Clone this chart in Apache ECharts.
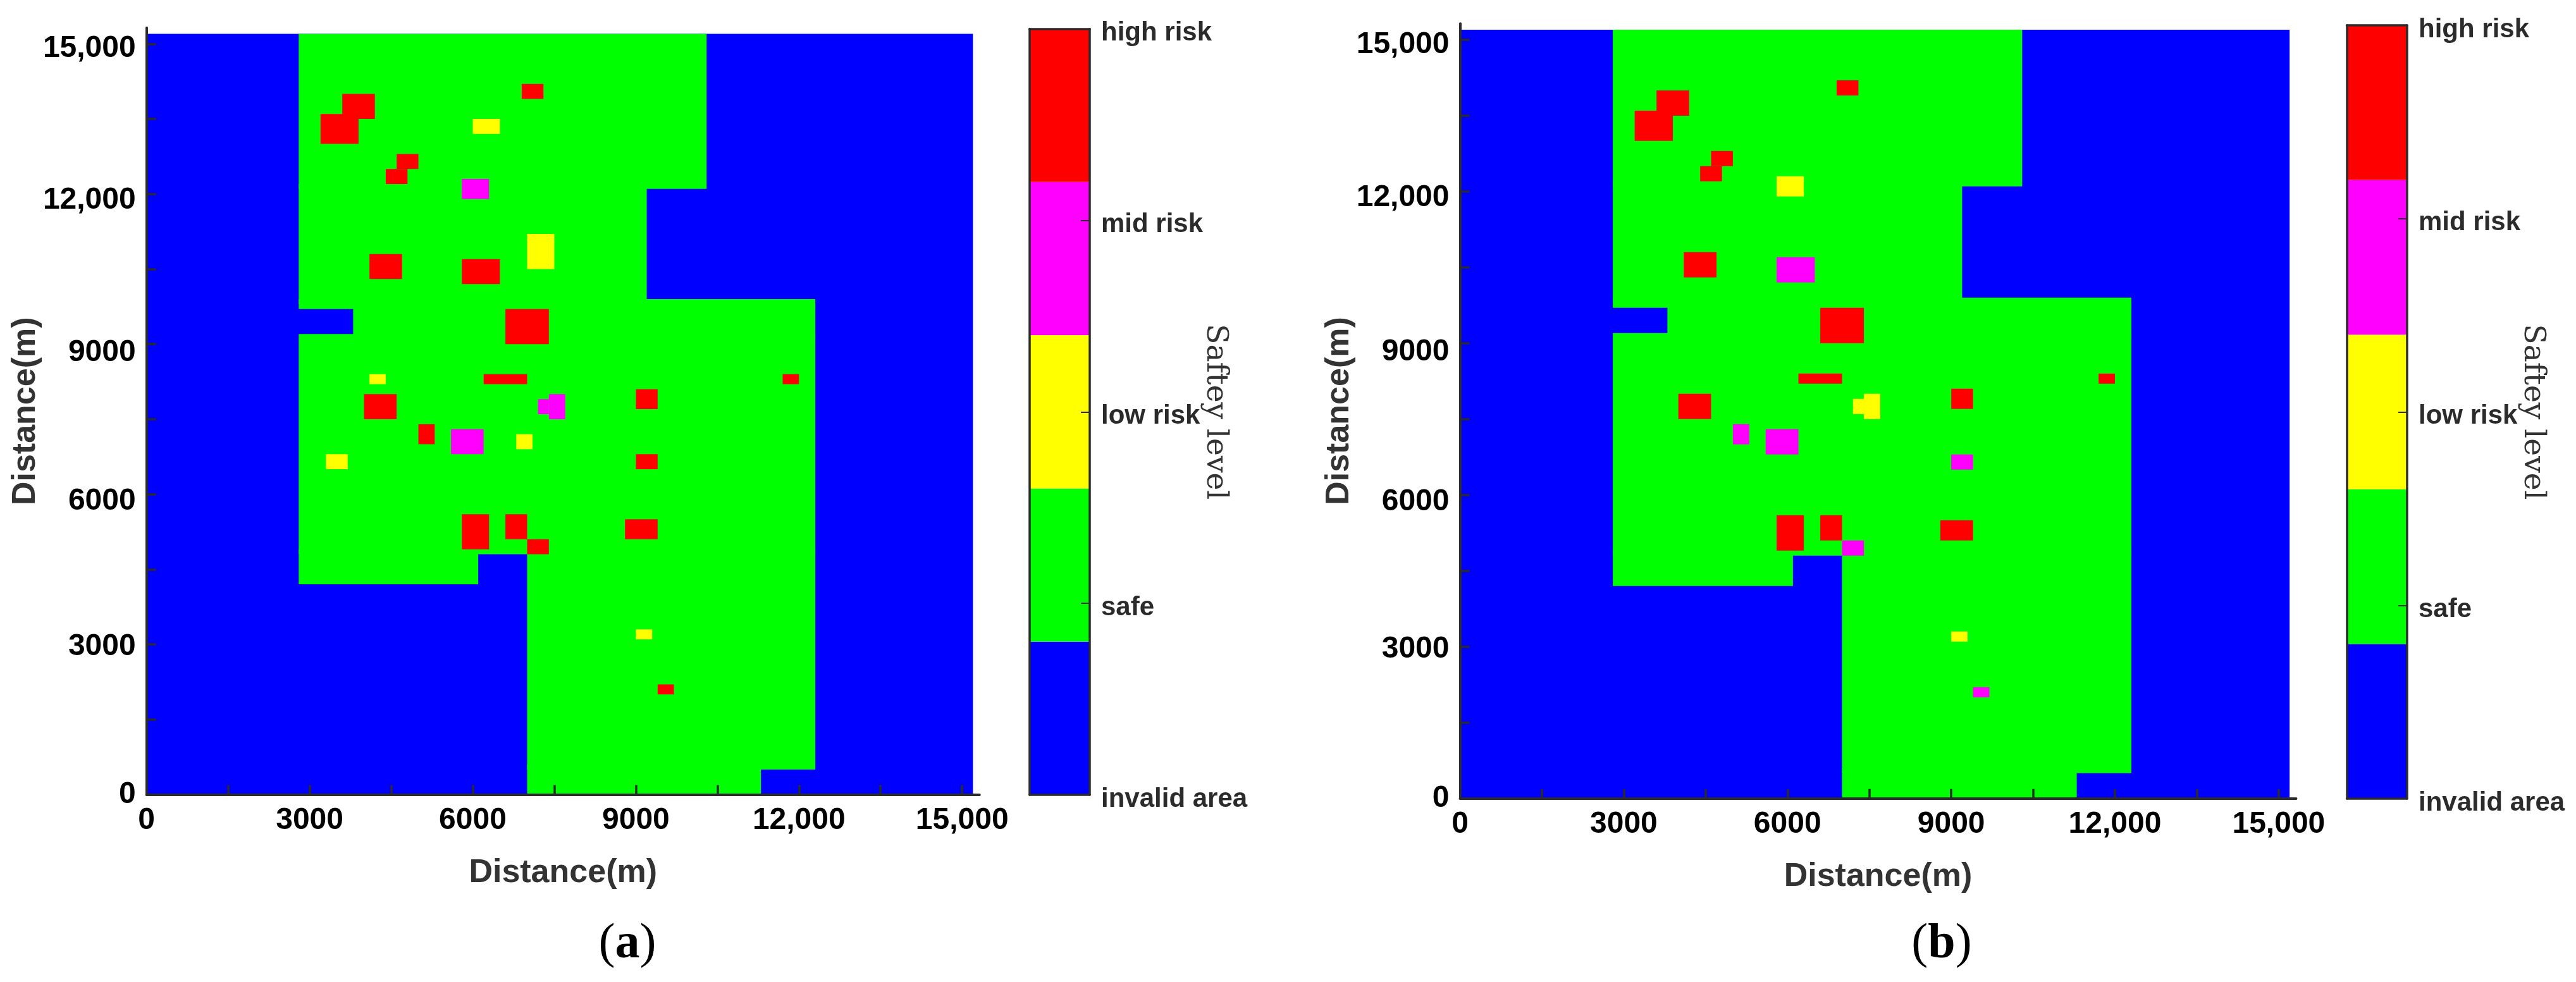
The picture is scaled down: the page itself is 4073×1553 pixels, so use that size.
<!DOCTYPE html>
<html>
<head>
<meta charset="utf-8">
<script src="https://cdn.jsdelivr.net/npm/echarts@6/dist/echarts.min.js"></script>
<style>
  html, body { margin: 0; padding: 0; background: #fff; }
  #container { width: 4073px; height: 1553px; }
</style>
</head>
<body>
<div id="container"></div>
<script>
// tick positions and labels, metres
var tickValues = [0, 1500, 3000, 4500, 6000, 7500, 9000, 10500, 12000, 13500, 15000];
var xLabelValues = [0, 3000, 6000, 9000, 12000, 15000];
// the y labels sit a little under their ticks in the original figure
var yLabelValues = [0, 2950, 5860, 8830, 11870, 14900];
var tickLabels = ['0', '3000', '6000', '9000', '12,000', '15,000'];

// safety levels: 0 invalid, 1 safe, 2 low, 3 mid, 4 high
var levelNames = ['invalid area', 'safe', 'low risk', 'mid risk', 'high risk'];
var levelColors = ['#0000ff', '#00ff00', '#ffff00', '#ff00ff', '#ff0000'];
var colorbarEdges = [0, 0.8, 1.6, 2.4, 3.2, 4];

// whole study area, then the safe zones on top of it: [x0, x1, y0, y1]
// neighbouring zones overlap by a cell so no seam shows
var studyArea = [[0, 15200, 0, 15200]];
var safeZones = [
    [2800, 10300, 12100, 15200],
    [2800, 9200, 9800, 12200],
    [2800, 12300, 9700, 9900],
    [3800, 12300, 9100, 9800],
    [2800, 12300, 4800, 9200],
    [2800, 6100, 4200, 4900],
    [7000, 12300, 500, 4900],
    [7000, 11300, 0, 600]
];

// assessed blocks: [x0, x1, y0, y1]
var blocks = [
    [3600, 4200, 13500, 14000],
    [3200, 3900, 13000, 13600],
    [6900, 7300, 13900, 14200],
    [6000, 6500, 13200, 13500],
    [4600, 5000, 12500, 12800],
    [4400, 4800, 12200, 12500],
    [5800, 6300, 11900, 12300],
    [7000, 7500, 10500, 11200],
    [4100, 4700, 10300, 10800],
    [5800, 6500, 10200, 10700],
    [6600, 7400, 9000, 9700],
    [4100, 4400, 8200, 8400],
    [6200, 7000, 8200, 8400],
    [11700, 12000, 8200, 8400],
    [4000, 4600, 7500, 8000],
    [7400, 7700, 7500, 8000],
    [7200, 7400, 7600, 7900],
    [9000, 9400, 7700, 8100],
    [5000, 5300, 7000, 7400],
    [5600, 6200, 6800, 7300],
    [6800, 7100, 6900, 7200],
    [3300, 3700, 6500, 6800],
    [9000, 9400, 6500, 6800],
    [5800, 6300, 4900, 5600],
    [6600, 7000, 5100, 5600],
    [7000, 7400, 4800, 5100],
    [8800, 9400, 5100, 5500],
    [9000, 9300, 3100, 3300],
    [9400, 9700, 2000, 2200]
];
// level of each block in (a) and (b)
var blockLevelsA = [4, 4, 4, 2, 4, 4, 3, 2, 4, 4, 4, 2, 4, 4, 4, 3, 3, 4, 4, 3, 2, 2, 4, 4, 4, 4, 4, 2, 4];
var blockLevelsB = [4, 4, 4, 1, 4, 4, 2, 1, 4, 3, 4, 1, 4, 4, 4, 2, 2, 4, 3, 3, 1, 1, 3, 4, 4, 3, 4, 2, 3];

var axisMax = 15320;
var axisColor = '#2b2b2b';
var sansFont = '"Liberation Sans", Arial, sans-serif';

// rectangle from [x0, x1, y0, y1, level] in data space
function renderCell(params, api) {
    var p0 = api.coord([api.value(0), api.value(3)]);
    var p1 = api.coord([api.value(1), api.value(2)]);
    return {
        type: 'rect',
        shape: { x: p0[0], y: p0[1], width: p1[0] - p0[0], height: p1[1] - p0[1] },
        style: { fill: levelColors[api.value(4)] }
    };
}

function mapAxis(dim, name) {
    var labelValues = dim == 'x' ? xLabelValues : yLabelValues;
    return {
        type: 'value',
        min: 0,
        max: axisMax,
        z: 5,
        name: name,
        nameLocation: 'middle',
        nameGap: dim == 'x' ? 98 : 165,
        nameMoveOverlap: false,
        nameTextStyle: { fontFamily: sansFont, fontWeight: 'bold', fontSize: 52, color: '#333' },
        splitLine: { show: false },
        axisLine: { show: true, onZero: false, lineStyle: { color: axisColor, width: 4 } },
        axisTick: { show: true, inside: true, length: 15, customValues: tickValues, lineStyle: { color: axisColor, width: 3.5 } },
        axisLabel: {
            show: true,
            customValues: labelValues,
            margin: 17,
            fontFamily: sansFont,
            fontWeight: 'bold',
            fontSize: 48,
            color: '#000',
            formatter: function (value) { return tickLabels[labelValues.indexOf(value)]; }
        }
    };
}

function barFrameAxis(extra) {
    var axis = {
        type: 'value',
        z: 5,
        splitLine: { show: false },
        axisTick: { show: false },
        axisLabel: { show: false },
        axisLine: { show: true, onZero: false, lineStyle: { color: axisColor, width: 3.5 } }
    };
    for (var k in extra) axis[k] = extra[k];
    return axis;
}

var option = {
    animation: false,
    backgroundColor: '#fff',
    title: [],
    grid: [],
    xAxis: [],
    yAxis: [],
    series: []
};

function addPanel(letter, captionX, levels, map, bar) {
    var blockData = blocks.map(function (b, i) { return b.concat(levels[i]); });
    var zoneData = studyArea.map(function (b) { return b.concat(0); })
        .concat(safeZones.map(function (b) { return b.concat(1); }))
        .concat(blockData);

    // map grid
    var gi = option.grid.length;
    option.grid.push({ left: map.left, top: map.top, width: map.width, height: map.height, outerBoundsMode: 'none' });
    var xi = option.xAxis.length, yi = option.yAxis.length;
    var xa = mapAxis('x', 'Distance(m)'); xa.gridIndex = gi; option.xAxis.push(xa);
    var ya = mapAxis('y', 'Distance(m)'); ya.gridIndex = gi; option.yAxis.push(ya);
    option.series.push({
        type: 'custom', xAxisIndex: xi, yAxisIndex: yi, renderItem: renderCell,
        data: zoneData, silent: true
    });

    // colour bar grid
    gi = option.grid.length;
    option.grid.push({ left: bar.left, top: bar.top, width: bar.width, height: bar.height, outerBoundsMode: 'none' });
    xi = option.xAxis.length;
    yi = option.yAxis.length;
    option.xAxis.push(barFrameAxis({ gridIndex: gi, min: 0, max: 1, position: 'bottom' }));
    option.xAxis.push(barFrameAxis({ gridIndex: gi, min: 0, max: 1, position: 'top' }));
    option.yAxis.push(barFrameAxis({ gridIndex: gi, min: 0, max: 4, position: 'left' }));
    option.yAxis.push({
        type: 'value',
        gridIndex: gi,
        min: 0,
        max: 4,
        interval: 1,
        z: 5,
        position: 'right',
        name: 'Saftey level',
        nameLocation: 'middle',
        nameRotate: -90,
        nameGap: 175,
        nameMoveOverlap: false,
        nameTextStyle: { fontFamily: '"DejaVu Serif", serif', fontSize: 47, color: '#333' },
        splitLine: { show: false },
        axisLine: { show: true, onZero: false, lineStyle: { color: axisColor, width: 3.5 } },
        axisTick: { show: true, inside: true, length: 14, lineStyle: { color: axisColor, width: 2 } },
        axisLabel: {
            margin: 18,
            formatter: function (value) { return '{n|' + levelNames[value] + '}'; },
            rich: {
                n: { padding: [14, 0, 0, 0], fontFamily: sansFont, fontWeight: 'bold', fontSize: 42, color: axisColor }
            }
        }
    });
    option.series.push({
        type: 'custom', xAxisIndex: xi, yAxisIndex: yi, renderItem: renderCell, silent: true,
        data: levelColors.map(function (c, i) { return [0, 1, colorbarEdges[i], colorbarEdges[i + 1], i]; })
    });

    // caption under the panel
    option.title.push({
        text: '{p|(}{b|' + letter + '}{p|)}',
        left: captionX,
        top: 1450,
        textAlign: 'center',
        textStyle: {
            rich: {
                p: { fontFamily: '"Liberation Serif", serif', fontSize: 78, fontWeight: 'normal', color: '#000' },
                b: { fontFamily: '"Liberation Serif", serif', fontSize: 78, fontWeight: 'bold', color: '#000' }
            }
        }
    });
}

addPanel('a', 987, blockLevelsA,
    { left: 231.7, top: 44, width: 1317, height: 1212.5 },
    { left: 1628, top: 45.5, width: 95, height: 1211.5 });
addPanel('b', 3065, blockLevelsB,
    { left: 2308.5, top: 37.3, width: 1322, height: 1225.4 },
    { left: 3710.5, top: 40, width: 95.5, height: 1223 });

var myChart = echarts.init(document.getElementById('container'));
myChart.setOption(option);
</script>
</body>
</html>
